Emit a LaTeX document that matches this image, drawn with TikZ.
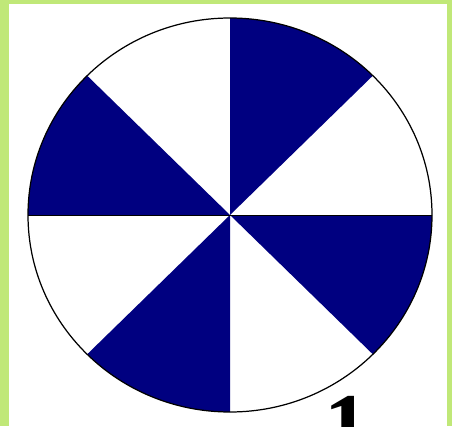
\documentclass[tikz,border=0pt]{standalone}
\usepackage{fontspec}
\newfontfamily\digitfont{Liberation Serif}
\usepackage{tikz}
\usetikzlibrary{positioning, calc}

\definecolor{boardgreen}{RGB}{192,232,120}
\definecolor{sectornavy}{RGB}{0,0,128}

\begin{document}
\begin{tikzpicture}[x=0.02cm, y=0.02cm]
    % Frame
    \fill[boardgreen] (0,0) rectangle (452,426);
    \useasboundingbox (0,0) rectangle (452,426);
    \clip (0,0) rectangle (452,426);
    \fill[white] (9,0) rectangle (447,422);
    \coordinate (O) at (230,211);
    % Dark sectors
    \fill[sectornavy] (O) -- ++(45:202 and 197) arc[start angle=45, end angle=90, x radius=202, y radius=197] -- cycle;
    \fill[sectornavy] (O) -- ++(135:202 and 197) arc[start angle=135, end angle=180, x radius=202, y radius=197] -- cycle;
    \fill[sectornavy] (O) -- ++(225:202 and 197) arc[start angle=225, end angle=270, x radius=202, y radius=197] -- cycle;
    \fill[sectornavy] (O) -- ++(315:202 and 197) arc[start angle=315, end angle=360, x radius=202, y radius=197] -- cycle;
    % Outline
    \draw[line width=0.7pt] (O) ellipse (202 and 197);
    \draw[line width=0.5pt] (O) ++(180:202) -- ++(404,0);
    % Label
    \node[anchor=north, inner sep=0pt, font=\digitfont\bfseries\fontsize{51}{51}\selectfont] (one) at (347,30) {1};
\end{tikzpicture}
\end{document}
